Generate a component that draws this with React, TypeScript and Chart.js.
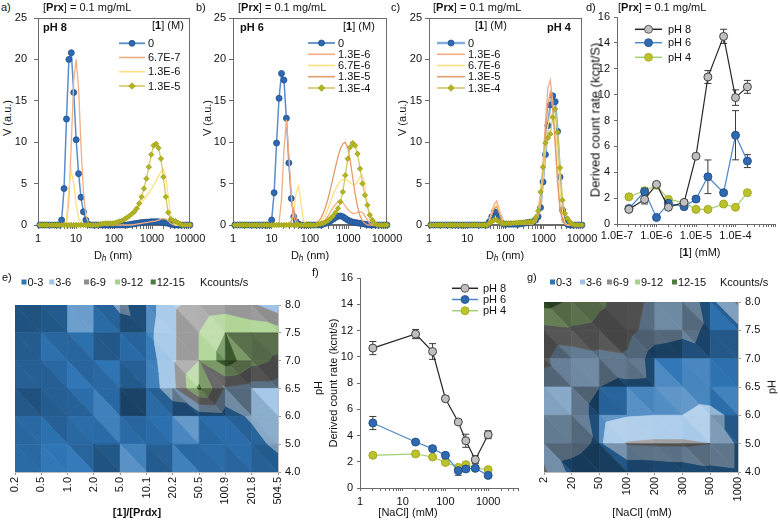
import React, { useEffect, useRef } from 'react';
import { Chart, registerables } from 'chart.js';

Chart.register(...registerables);

const FONT = '"Liberation Sans", Arial, Helvetica, sans-serif';
Chart.defaults.font.family = FONT;
Chart.defaults.font.size = 11;
Chart.defaults.color = '#111';

// ---------------- Panels a–c : DLS volume distributions ----------------
const dlsSizes = [1.117, 1.294, 1.499, 1.736, 2.01, 2.328, 2.696, 3.122, 3.615, 4.187,
  4.849, 5.615, 6.503, 7.531, 8.721, 10.1, 11.7, 13.54, 15.69, 18.17,
  21.04, 24.36, 28.21, 32.67, 37.84, 43.82, 50.75, 58.77, 68.06, 78.82,
  91.28, 105.7, 122.4, 141.8, 164.2, 190.1, 220.2, 255.0, 295.3, 342.0,
  396.1, 458.7, 531.2, 615.1, 712.4, 825.0, 955.4, 1106, 1281, 1484,
  1718, 1990, 2305, 2669, 3091, 3580, 4145, 4801, 5560, 6439,
  7456, 8635, 10000];

// pH 8
const aConc0 = [0, 0, 0, 0, 0, 0, 0, 0, 0, 0.6,
  4.4, 12.8, 20.0, 20.8, 16.0, 10.3, 6.2, 3.35, 1.6, 0.6,
  0.1, 0, 0, 0, 0, 0, 0, 0, 0, 0,
  0, 0, 0, 0, 0, 0, 0, 0.05, 0.1, 0.15,
  0.2, 0.25, 0.3, 0.3, 0.35, 0.35, 0.4, 0.4, 0.4, 0.4,
  0.35, 0.3, 0.25, 0.2, 0.1, 0.05, 0, 0, 0, 0,
  0, 0, 0];
const aConc67e7 = [0, 0, 0, 0, 0, 0, 0, 0, 0, 0,
  0, 0.3, 3.0, 10.0, 17.5, 20.0, 16.5, 9.5, 4.0, 1.2,
  0.3, 0, 0, 0, 0, 0, 0, 0, 0, 0,
  0, 0, 0, 0, 0, 0, 0, 0, 0, 0.05,
  0.1, 0.15, 0.2, 0.25, 0.3, 0.35, 0.4, 0.45, 0.5, 0.6,
  0.7, 0.8, 0.75, 0.5, 0.2, 0.05, 0, 0, 0, 0,
  0, 0, 0];
const aConc13e6 = [0, 0, 0, 0, 0, 0, 0, 0, 0, 0,
  0, 0.5, 4.5, 6.5, 5.0, 2.5, 0.8, 0.2, 0, 0,
  0, 0, 0, 0, 0, 0, 0, 0.05, 0.1, 0.1,
  0.15, 0.2, 0.25, 0.3, 0.4, 0.5, 0.7, 0.9, 1.2, 1.5,
  1.9, 2.3, 2.7, 3.1, 3.5, 3.9, 4.3, 4.8, 5.3, 5.9,
  6.4, 6.8, 5.8, 3.5, 1.3, 0.3, 0, 0, 0, 0,
  0, 0, 0];
const aConc13e5 = [0, 0, 0, 0, 0, 0, 0, 0, 0, 0,
  0, 0, 0, 0, 0, 0, 0, 0, 0, 0,
  0, 0, 0, 0, 0, 0.1, 0.15, 0.2, 0.2, 0.2,
  0.2, 0.25, 0.35, 0.45, 0.55, 0.7, 0.9, 1.1, 1.35, 1.6,
  2.0, 2.6, 3.4, 4.4, 5.6, 7.0, 8.5, 9.6, 9.8, 9.3,
  8.0, 5.8, 3.4, 1.5, 0.7, 0.55, 0.45, 0.3, 0.1, 0,
  0, 0, 0];

// pH 6
const bConc0 = [0, 0, 0, 0, 0, 0, 0, 0, 0, 0,
  0, 0, 0, 0, 0, 0.6, 3.9, 9.9, 15.3, 18.3,
  17.5, 12.9, 7.5, 3.2, 1.0, 0.4, 0.1, 0, 0, 0,
  0, 0, 0, 0, 0, 0, 0.1, 0.2, 0.3, 0.5,
  0.7, 0.9, 1.05, 1.1, 1.0, 0.8, 0.6, 0.45, 0.35, 0.3,
  0.25, 0.2, 0.15, 0.1, 0.05, 0, 0, 0, 0, 0,
  0, 0, 0];
const bConc13e6 = [0, 0, 0, 0, 0, 0, 0, 0, 0, 0,
  0, 0, 0, 0, 0, 0, 0, 0, 0.3, 3.0,
  9.0, 12.7, 8.5, 3.5, 1.0, 0.2, 0, 0, 0, 0,
  0, 0, 0, 0, 0.1, 0.2, 0.4, 0.7, 1.1, 1.6,
  2.1, 2.5, 2.8, 2.9, 2.7, 2.3, 1.9, 1.6, 1.4, 1.4,
  1.5, 1.6, 1.5, 1.1, 0.6, 0.2, 0, 0, 0, 0,
  0, 0, 0];
const bConc67e6 = [0, 0, 0, 0, 0, 0, 0, 0, 0, 0,
  0, 0, 0, 0, 0, 0, 0, 0, 0, 0,
  0, 0, 0, 0.3, 1.5, 4.0, 4.7, 2.5, 0.6, 0.1,
  0, 0, 0, 0, 0.2, 0.4, 0.8, 1.3, 2.0, 2.8,
  3.6, 4.3, 4.9, 5.3, 5.5, 5.5, 5.4, 5.1, 4.9, 4.9,
  5.2, 5.8, 6.0, 4.8, 2.5, 0.8, 0.2, 0, 0, 0,
  0, 0, 0];
const bConc13e5 = [0, 0, 0, 0, 0, 0, 0, 0, 0, 0,
  0, 0, 0, 0, 0, 0, 0, 0, 0, 0,
  0, 0, 0, 0.5, 1.9, 0.8, 0.1, 0, 0, 0,
  0, 0, 0.1, 0.2, 0.4, 0.8, 1.4, 2.2, 3.2, 4.4,
  5.7, 7.0, 8.2, 9.2, 9.8, 10.0, 9.3, 7.8, 5.8, 3.8,
  2.2, 1.1, 0.5, 0.2, 0, 0, 0, 0, 0, 0,
  0, 0, 0];
const bConc13e4 = [0, 0, 0, 0, 0, 0, 0, 0, 0, 0,
  0, 0, 0, 0, 0, 0, 0, 0, 0, 0,
  0, 0, 0, 0, 0, 0, 0, 0, 0, 0,
  0, 0, 0, 0, 0.1, 0.15, 0.2, 0.35, 0.55, 0.8,
  1.1, 1.5, 2.0, 2.8, 4.0, 6.0, 8.0, 9.4, 9.9, 9.6,
  8.6, 6.8, 5.0, 3.6, 2.4, 1.2, 0.6, 0.2, 0, 0,
  0, 0, 0];

// pH 4
const cConc0 = [0, 0, 0, 0, 0, 0, 0, 0, 0, 0,
  0, 0, 0, 0, 0, 0, 0, 0, 0, 0,
  0, 0, 0, 0, 0.4, 1.0, 1.6, 1.5, 0.9, 0.3,
  0.1, 0.1, 0.1, 0.1, 0.1, 0.1, 0.1, 0.15, 0.2, 0.25,
  0.3, 0.35, 0.4, 0.6, 1.0, 2.1, 5.2, 8.5, 12.0, 14.5,
  15.6, 14.9, 11.3, 5.8, 1.8, 0.6, 0.1, 0, 0, 0,
  0, 0, 0];
const cConc13e6 = [0, 0, 0, 0, 0, 0, 0, 0, 0, 0,
  0, 0, 0, 0, 0, 0, 0, 0, 0, 0,
  0, 0, 0, 0, 0.6, 1.6, 2.5, 2.9, 2.0, 0.8,
  0.2, 0.1, 0.1, 0.1, 0.1, 0.1, 0.1, 0.1, 0.1, 0.1,
  0.1, 0.1, 0.2, 0.5, 1.2, 3.5, 7.5, 12.5, 16.5, 17.5,
  15.0, 10.0, 5.0, 1.8, 0.5, 0.1, 0, 0, 0, 0,
  0, 0, 0];
const cConc67e6 = [0, 0, 0, 0, 0, 0, 0, 0, 0, 0,
  0, 0, 0, 0, 0, 0, 0, 0, 0, 0,
  0, 0, 0, 0, 0.5, 1.4, 2.2, 2.4, 1.8, 0.7,
  0.2, 0.1, 0.1, 0.1, 0.1, 0.1, 0.1, 0.1, 0.1, 0.1,
  0.1, 0.1, 0.2, 0.4, 1.0, 2.5, 5.5, 9.0, 12.0, 13.2,
  13.5, 12.0, 8.5, 4.5, 1.5, 0.3, 0, 0, 0, 0,
  0, 0, 0];
const cConc13e5 = [0, 0, 0, 0, 0, 0, 0, 0, 0, 0,
  0, 0, 0, 0, 0, 0, 0, 0, 0, 0,
  0, 0, 0, 0, 0.4, 1.2, 2.0, 2.2, 1.5, 0.6,
  0.2, 0.1, 0.1, 0.1, 0.1, 0.1, 0.1, 0.1, 0.1, 0.1,
  0.1, 0.1, 0.2, 0.4, 1.0, 2.8, 6.5, 11.0, 14.5, 16.0,
  14.0, 10.0, 5.5, 2.0, 0.6, 0.1, 0, 0, 0, 0,
  0, 0, 0];
const cConc13e4 = [0, 0, 0, 0, 0, 0, 0, 0, 0, 0,
  0, 0, 0, 0, 0, 0, 0, 0, 0, 0,
  0, 0, 0, 0, 0.2, 0.4, 0.6, 0.6, 0.4, 0.2,
  0.15, 0.2, 0.2, 0.2, 0.25, 0.25, 0.3, 0.3, 0.3, 0.35,
  0.35, 0.4, 0.4, 0.9, 1.7, 4.0, 7.0, 9.9, 10.5, 11.0,
  13.0, 14.0, 11.2, 6.9, 3.0, 1.4, 0.8, 0.4, 0.1, 0,
  0, 0, 0];

const dlsDecades = [1, 10, 100, 1000, 10000];

// ---------------- Panel d : count rate vs [1] ----------------
const dConc = [2e-7, 5e-7, 1e-6, 2e-6, 5e-6, 1e-5, 2e-5, 5e-5, 1e-4, 2e-4];
const dPH8 = [1.13, 1.9, 3.06, 1.29, 1.67, 5.24, 11.36, 14.5, 9.77, 10.6];
const dPH8err = [0.15, 0.35, 0.15, 0.15, 0.15, 0.15, 0.5, 0.55, 0.6, 0.5];
const dPH6 = [1.2, 2.5, 0.51, 1.6, 1.34, 1.93, 3.65, 2.42, 6.86, 4.86];
const dPH6err = [0.15, 0.3, 0.1, 0.2, 0.15, 0.2, 1.3, 0.15, 1.9, 0.5];
const dPH4 = [2.1, 2.57, 3.0, 1.9, 1.65, 1.13, 1.13, 1.54, 1.29, 2.42];
const dPH4err = [0.1, 0.1, 0.1, 0.1, 0.1, 0.1, 0.1, 0.1, 0.1, 0.1];
const dDecades = [1e-7, 1e-6, 1e-5, 1e-4];

// ---------------- Panel f : count rate vs NaCl ----------------
const fNaCl = [2, 20, 50, 100, 200, 300, 500, 1000];
const fPH8 = [10.66, 11.73, 10.4, 6.8, 5.03, 3.6, 2.16, 4.06];
const fPH8err = [0.5, 0.35, 0.6, 0.2, 0.1, 0.5, 0.3, 0.3];
const fPH6 = [4.95, 3.5, 3.0, 2.49, 1.32, 1.45, 1.5, 0.96];
const fPH6err = [0.5, 0.15, 0.2, 0.2, 0.35, 0.2, 0.1, 0.1];
const fPH4 = [2.49, 2.6, 2.36, 1.95, 1.57, 1.78, 1.52, 1.4];
const fPH4err = [0.1, 0.2, 0.1, 0.1, 0.1, 0.1, 0.1, 0.1];
const fDecades = [1, 10, 100, 1000];

// ---------------- Panels e, g : count-rate surfaces ----------------
const phLabels = ['8.0', '7.5', '7.0', '6.5', '6.0', '5.0', '4.0'];
const eRatio = ['0.2', '0.5', '1.0', '2.0', '5.0', '10.1', '20.2', '50.5', '100.9', '201.8', '504.5'];
const eRow80 = [1.5, 2.5, 0.6, 1.2, 3.6, 1.5, 5.5, 7.0, 7.5, 6.5, 4.0];
const eRow75 = [2.0, 0.5, 1.8, 2.5, 1.5, 2.0, 5.5, 9.0, 12.0, 11.0, 10.5];
const eRow70 = [2.8, 1.5, 0.8, 2.0, 1.5, 1.2, 5.5, 9.0, 13.5, 10.0, 8.5];
const eRow65 = [1.8, 2.5, 1.2, 1.0, 2.5, 0.8, 5.0, 12.5, 5.5, 4.5, 4.5];
const eRow60 = [1.5, 0.8, 2.2, 1.0, 1.5, 0.6, 0.5, 1.0, 1.5, 3.5, 5.0];
const eRow50 = [2.0, 1.2, 0.8, 2.8, 1.5, 1.2, 0.5, 2.0, 1.0, 1.5, 4.0];
const eRow40 = [1.5, 1.8, 1.5, 1.2, 2.0, 2.5, 0.5, 1.0, 2.5, 1.0, 0.8];

const gNaCl = ['2', '20', '50', '100', '200', '300', '500', '1000'];
const gRow80 = [13.0, 11.5, 9.5, 7.5, 5.0, 4.5, 2.0, 6.5];
const gRow75 = [8.0, 8.5, 8.0, 7.0, 4.5, 3.8, 2.5, 2.0];
const gRow70 = [6.5, 4.0, 5.0, 5.5, 1.5, 1.0, 2.0, 1.5];
const gRow65 = [5.0, 4.5, 3.0, 2.0, 1.8, 2.2, 2.0, 2.0];
const gRow60 = [5.5, 4.5, 2.0, 2.8, 3.0, 3.0, 3.5, 2.5];
const gRow50 = [4.5, 4.0, 2.5, 6.2, 6.5, 6.5, 6.0, 2.5];
const gRow40 = [6.5, 2.0, 1.0, 0.5, 0.5, 1.0, 2.0, 2.5];

const bandEdges = [0, 3, 6, 9, 12, 15];
const bandLabels = ['0-3', '3-6', '6-9', '9-12', '12-15'];
const bandColors = ['#2E75B6', '#9DC3E6', '#8E8E8E', '#A9D18E', '#4F7B3C'];

// ---------------- styles ----------------
const AX = '#6b6b6b';
const S_BLUE = { line: '#5A8DCB', width: 1.5, marker: 'circle', r: 3, fill: '#2E69B1', stroke: '#1F4F8A' };
const S_ORANGE = { line: '#F2AE82', width: 1.3 };
const S_YELLOW = { line: '#FFE07F', width: 1.3 };
const S_DKORANGE = { line: '#E39C6B', width: 1.3 };
const S_OLIVE = { line: '#D2C965', width: 1.3, marker: 'rectRot', r: 2.7, fill: '#B2B420', stroke: '#A0A21C' };
const S_PH8 = { line: '#262626', width: 1.2, marker: 'circle', r: 4, fill: '#BFBFBF', stroke: '#404040' };
const S_PH6 = { line: '#4F86C6', width: 1.2, marker: 'circle', r: 4, fill: '#2E69B1', stroke: '#24528C' };
const S_PH4 = { line: '#A3CF76', width: 1.2, marker: 'circle', r: 4, fill: '#BCC32A', stroke: '#A3A825' };

type Box = { x: number; y: number; w: number; h: number };

// ---------------- helpers ----------------
function isDecade(v: number) {
  const l = Math.log10(v);
  return Math.abs(l - Math.round(l)) < 1e-6;
}
function logTickValues(decades: number[], max: number) {
  const out: number[] = [];
  decades.forEach((d) => {
    for (let m = 1; m <= 9; m++) {
      const v = Number((m * d).toPrecision(12));
      if (v <= max * 1.000001) out.push(v);
    }
  });
  const last = Number((decades[decades.length - 1] * 10).toPrecision(12));
  if (last <= max * 1.000001 && out.indexOf(last) < 0) out.push(last);
  return out;
}

function drawMarker(ctx: CanvasRenderingContext2D, kind: string, x: number, y: number, r: number, fill: string, stroke: string) {
  ctx.beginPath();
  if (kind === 'rectRot') {
    ctx.moveTo(x, y - r * 1.2); ctx.lineTo(x + r * 1.2, y); ctx.lineTo(x, y + r * 1.2); ctx.lineTo(x - r * 1.2, y); ctx.closePath();
  } else {
    ctx.arc(x, y, r, 0, Math.PI * 2);
  }
  ctx.fillStyle = fill; ctx.fill();
  ctx.strokeStyle = stroke; ctx.lineWidth = 0.8; ctx.stroke();
}

function lineLegend(items: any[], geo: { x0: number; x1: number; tx: number; rows: number[] }, box: Box) {
  return {
    id: 'lineLegend',
    afterDraw(chart: any) {
      const ctx: CanvasRenderingContext2D = chart.ctx;
      ctx.save();
      items.forEach((it, i) => {
        const y = geo.rows[i] - box.y;
        const x0 = geo.x0 - box.x, x1 = geo.x1 - box.x;
        ctx.beginPath(); ctx.moveTo(x0, y); ctx.lineTo(x1, y);
        ctx.strokeStyle = it.line; ctx.lineWidth = it.width + 0.3; ctx.stroke();
        if (it.marker) drawMarker(ctx, it.marker, (x0 + x1) / 2, y, it.r, it.fill, it.stroke);
        ctx.fillStyle = '#111'; ctx.font = `11px ${FONT}`; ctx.textBaseline = 'middle'; ctx.textAlign = 'left';
        ctx.fillText(it.label, geo.tx - box.x, y + 0.5);
      });
      ctx.restore();
    },
  };
}

function boxLegend(boxesX: number[], unitX: number, y: number, box: Box) {
  return {
    id: 'boxLegend',
    afterDraw(chart: any) {
      const ctx: CanvasRenderingContext2D = chart.ctx;
      ctx.save();
      ctx.font = `11px ${FONT}`; ctx.textBaseline = 'middle'; ctx.textAlign = 'left';
      bandLabels.forEach((lab, i) => {
        const bx = boxesX[i] - box.x, by = y - box.y;
        ctx.fillStyle = bandColors[i];
        ctx.fillRect(bx, by - 2.5, 5, 5);
        ctx.fillStyle = '#111';
        ctx.fillText(lab, bx + 6, by + 0.5);
      });
      ctx.fillText('Kcounts/s', unitX - box.x, y - box.y + 0.5);
      ctx.restore();
    },
  };
}

const framePlugin = {
  id: 'frame',
  beforeDatasetsDraw(chart: any) {
    const { ctx, chartArea: a } = chart;
    ctx.save();
    ctx.strokeStyle = AX; ctx.lineWidth = 1;
    ctx.strokeRect(Math.round(a.left) + 0.5, Math.round(a.top) + 0.5, Math.round(a.width) - 1, Math.round(a.height) - 1);
    ctx.restore();
  },
};

const errorBarPlugin = {
  id: 'errorBars',
  beforeDatasetsDraw(chart: any) {
    const { ctx, scales } = chart;
    ctx.save();
    chart.data.datasets.forEach((ds: any) => {
      if (!ds.errors) return;
      ctx.strokeStyle = '#3a3a3a'; ctx.lineWidth = 1;
      ds.data.forEach((p: any, i: number) => {
        const e = ds.errors[i];
        if (!e) return;
        const px = scales.x.getPixelForValue(p.x);
        const yt = scales.y.getPixelForValue(p.y + e);
        const yb = scales.y.getPixelForValue(p.y - e);
        ctx.beginPath();
        ctx.moveTo(px, yt); ctx.lineTo(px, yb);
        ctx.moveTo(px - 3.5, yt); ctx.lineTo(px + 3.5, yt);
        ctx.moveTo(px - 3.5, yb); ctx.lineTo(px + 3.5, yb);
        ctx.stroke();
      });
    });
    ctx.restore();
  },
};

function shade(hex: string, f: number) {
  const n = parseInt(hex.slice(1), 16);
  const ch = [(n >> 16) & 255, (n >> 8) & 255, n & 255];
  const adj = (c: number) => (f <= 1 ? c * f : c + (255 - c) * Math.min(1, (f - 1) * 1.6));
  return `rgb(${ch.map((c) => Math.round(Math.max(0, Math.min(255, adj(c))))).join(',')})`;
}

type SP = { gx: number; gy: number; px: number; py: number; v: number };
function clipPoly(poly: SP[], f: (p: SP) => number) {
  const out: SP[] = [];
  for (let i = 0; i < poly.length; i++) {
    const a = poly[i], b = poly[(i + 1) % poly.length];
    const fa = f(a), fb = f(b);
    if (fa >= 0) out.push(a);
    if ((fa >= 0) !== (fb >= 0)) {
      const t = fa / (fa - fb);
      out.push({ gx: a.gx + t * (b.gx - a.gx), gy: a.gy + t * (b.gy - a.gy), px: a.px + t * (b.px - a.px), py: a.py + t * (b.py - a.py), v: a.v + t * (b.v - a.v) });
    }
  }
  return out;
}

function surfacePlugin(rows: number[][]) {
  return {
    id: 'surface',
    beforeDatasetsDraw(chart: any) {
      const { ctx, chartArea: a, scales } = chart;
      const xs = scales.x, ys = scales.y;
      ctx.save();
      ctx.beginPath(); ctx.rect(a.left, a.top, a.width, a.height); ctx.clip();
      const P = (r: number, c: number): SP => ({ gx: c, gy: r, px: xs.getPixelForValue(c), py: ys.getPixelForValue(r), v: rows[r][c] });
      const L = [-0.45, -0.5, 0.74];
      const k = 0.5;
      const drawTri = (t: SP[]) => {
        const d1x = t[1].gx - t[0].gx, d1y = t[1].gy - t[0].gy, dv1 = t[1].v - t[0].v;
        const d2x = t[2].gx - t[0].gx, d2y = t[2].gy - t[0].gy, dv2 = t[2].v - t[0].v;
        const det = d1x * d2y - d1y * d2x;
        const ga = (dv1 * d2y - dv2 * d1y) / det;
        const gb = (d1x * dv2 - d2x * dv1) / det;
        let nx = -ga * k, ny = -gb * k;
        const m = Math.sqrt(nx * nx + ny * ny);
        if (m > 0.8) { nx *= 0.8 / m; ny *= 0.8 / m; }
        const nl = Math.sqrt(nx * nx + ny * ny + 1);
        const dot = (nx * L[0] + ny * L[1] + L[2]) / nl;
        const fac = 0.35 + 0.85 * dot;
        for (let b = 0; b < bandColors.length; b++) {
          const lo = bandEdges[b];
          const hi = b === bandColors.length - 1 ? Infinity : bandEdges[b + 1];
          let poly = clipPoly(t, (p) => p.v - lo);
          if (hi !== Infinity && poly.length) poly = clipPoly(poly, (p) => hi - p.v);
          if (poly.length < 3) continue;
          const col = shade(bandColors[b], fac);
          ctx.beginPath();
          ctx.moveTo(poly[0].px, poly[0].py);
          for (let i = 1; i < poly.length; i++) ctx.lineTo(poly[i].px, poly[i].py);
          ctx.closePath();
          ctx.fillStyle = col; ctx.strokeStyle = col; ctx.lineWidth = 0.7;
          ctx.fill(); ctx.stroke();
        }
      };
      for (let r = 0; r < rows.length - 1; r++) {
        for (let c = 0; c < rows[0].length - 1; c++) {
          drawTri([P(r, c), P(r, c + 1), P(r + 1, c + 1)]);
          drawTri([P(r, c), P(r + 1, c + 1), P(r + 1, c)]);
        }
      }
      ctx.restore();
    },
  };
}

function logAxis(min: number, max: number, decades: number[], fmt: (v: number) => string, height: number, tickLen: number, pad: number, showMax: boolean) {
  return {
    type: 'logarithmic',
    min, max,
    afterBuildTicks: (scale: any) => { scale.ticks = logTickValues(decades, max).filter((v) => v >= min * 0.999999).map((v) => ({ value: v })); },
    afterFit: (scale: any) => { scale.height = height; },
    ticks: {
      autoSkip: false, maxRotation: 0, minRotation: 0, padding: pad, color: '#111', font: { size: 11 },
      callback: (v: number) => (isDecade(v) && (showMax || v < max * 0.999) ? fmt(v) : ''),
    },
    grid: { display: true, drawOnChartArea: false, drawTicks: true, tickLength: tickLen, color: AX },
    border: { display: true, color: AX },
  };
}

function linAxis(min: number, max: number, step: number, width: number, tickLen: number, pad: number) {
  return {
    type: 'linear', min, max,
    afterFit: (scale: any) => { scale.width = width; },
    ticks: { stepSize: step, padding: pad, color: '#111', font: { size: 11 } },
    grid: { display: true, drawOnChartArea: false, drawTicks: true, tickLength: tickLen, color: AX },
    border: { display: true, color: AX },
  };
}

const baseOptions = (padding: any) => ({
  responsive: false, animation: false, devicePixelRatio: 1, events: [],
  layout: { padding },
  plugins: { legend: { display: false }, tooltip: { enabled: false } },
});

function toDataset(s: any, xs: number[], extra: any = {}) {
  return {
    label: s.label,
    data: s.values.map((y: number, k: number) => ({ x: xs[k], y })),
    borderColor: s.line, borderWidth: s.width, backgroundColor: s.fill || s.line,
    pointRadius: s.marker ? s.r : 0, pointStyle: s.marker || 'circle',
    pointBackgroundColor: s.fill, pointBorderColor: s.stroke, pointBorderWidth: 0.8,
    tension: 0, clip: false, ...extra,
  };
}

function dlsConfig(series: any[], box: Box, yWidth: number, yPad: number, legGeo: any) {
  return {
    type: 'line',
    data: { datasets: series.map((s, i) => toDataset(s, dlsSizes, { order: series.length - i })) },
    options: {
      ...baseOptions({ top: 18, right: 20, left: 0, bottom: 0 }),
      scales: {
        x: logAxis(1, 10000, dlsDecades, (v) => String(Math.round(v)), 25, 4, 3, true),
        y: linAxis(0, 25, 5, yWidth, 4, yPad),
      },
    },
    plugins: [framePlugin, lineLegend(series, legGeo, box)],
  };
}

// ---------------- boxes (page coordinates) ----------------
const A_BOX: Box = { x: 14, y: 0, w: 196, h: 250 };
const B_BOX: Box = { x: 209, y: 0, w: 198, h: 250 };
const C_BOX: Box = { x: 405, y: 0, w: 197, h: 250 };
const D_BOX: Box = { x: 585, y: 0, w: 195, h: 250 };
const E_BOX: Box = { x: 0, y: 270, w: 315, h: 250 };
const F_BOX: Box = { x: 335, y: 262, w: 195, h: 258 };
const G_BOX: Box = { x: 525, y: 270, w: 255, h: 250 };

const makeA = () => dlsConfig([
  { label: '0', values: aConc0, ...S_BLUE },
  { label: '6.7E-7', values: aConc67e7, ...S_ORANGE },
  { label: '1.3E-6', values: aConc13e6, ...S_YELLOW },
  { label: '1.3E-5', values: aConc13e5, ...S_OLIVE },
], A_BOX, 24, 7, { x0: 119, x1: 145, tx: 148, rows: [43.3, 57.5, 71.7, 86] });

const makeB = () => dlsConfig([
  { label: '0', values: bConc0, ...S_BLUE },
  { label: '1.3E-6', values: bConc13e6, ...S_ORANGE },
  { label: '6.7E-6', values: bConc67e6, ...S_YELLOW },
  { label: '1.3E-5', values: bConc13e5, ...S_DKORANGE },
  { label: '1.3E-4', values: bConc13e4, ...S_OLIVE },
], B_BOX, 24, 3, { x0: 308, x1: 335, tx: 338, rows: [43, 54.3, 65.5, 76.7, 88] });

const makeC = () => dlsConfig([
  { label: '0', values: cConc0, ...S_BLUE, line: '#86ACDD', width: 2.2 },
  { label: '1.3E-6', values: cConc13e6, ...S_ORANGE },
  { label: '6.7E-6', values: cConc67e6, ...S_YELLOW },
  { label: '1.3E-5', values: cConc13e5, ...S_DKORANGE },
  { label: '1.3E-4', values: cConc13e4, ...S_OLIVE },
], C_BOX, 24, 3, { x0: 437, x1: 465, tx: 468, rows: [43, 54.3, 65.5, 76.7, 88] });

function rateConfig(series: any[], xs: number[], box: Box, xAxis: any, yWidth: number, legGeo: any, padding: any) {
  return {
    type: 'line',
    data: { datasets: series.map((s) => toDataset(s, xs, { errors: s.errors, pointBorderWidth: 1 })) },
    options: {
      ...baseOptions(padding),
      scales: { x: xAxis, y: linAxis(0, 16, 2, yWidth, 3, 4) },
    },
    plugins: [errorBarPlugin, lineLegend(series, legGeo, box)],
  };
}

const makeD = () => rateConfig([
  { label: 'pH 8', values: dPH8, errors: dPH8err, ...S_PH8 },
  { label: 'pH 6', values: dPH6, errors: dPH6err, ...S_PH6 },
  { label: 'pH 4', values: dPH4, errors: dPH4err, ...S_PH4 },
], dConc, D_BOX, logAxis(1e-7, 1e-3, dDecades, (v) => v.toExponential(1).toUpperCase(), 26, 3, 2, false), 32,
  { x0: 635, x1: 662, tx: 668, rows: [29.3, 42.7, 57.3] }, { top: 17, right: 1, left: 0, bottom: 0 });

const makeF = () => rateConfig([
  { label: 'pH 8', values: fPH8, errors: fPH8err, ...S_PH8 },
  { label: 'pH 6', values: fPH6, errors: fPH6err, ...S_PH6 },
  { label: 'pH 4', values: fPH4, errors: fPH4err, ...S_PH4 },
], fNaCl, F_BOX, logAxis(1, 5000, fDecades, (v) => String(Math.round(v)), 20, 3, 4, false), 25,
  { x0: 452, x1: 478, tx: 483, rows: [288.3, 299.5, 310.7] }, { top: 16, right: 12, left: 0, bottom: 12 });

function surfaceConfig(cols: string[], rows: number[][], box: Box, padding: any, yWidth: number, legX: number[], unitX: number) {
  return {
    type: 'line',
    data: { labels: cols, datasets: [] },
    options: {
      ...baseOptions(padding),
      scales: {
        x: {
          type: 'category', labels: cols, offset: false,
          afterFit: (s: any) => { s.height = 40; },
          ticks: { autoSkip: false, maxRotation: 90, minRotation: 90, padding: 2, color: '#111', font: { size: 11 } },
          grid: { display: true, drawOnChartArea: false, drawTicks: true, tickLength: 3, color: '#9a9a9a', offset: false },
          border: { display: true, color: '#bdbdbd' },
        },
        y: {
          type: 'category', labels: phLabels, position: 'right', offset: false,
          afterFit: (s: any) => { s.width = yWidth; },
          ticks: { autoSkip: false, padding: 4, color: '#111', font: { size: 11 } },
          grid: { display: true, drawOnChartArea: false, drawTicks: true, tickLength: 3, color: '#9a9a9a', offset: false },
          border: { display: true, color: '#bdbdbd' },
        },
      },
    },
    plugins: [surfacePlugin(rows), boxLegend(legX, unitX, 282, box)],
  };
}

const makeE = () => surfaceConfig(eRatio, [eRow80, eRow75, eRow70, eRow65, eRow60, eRow50, eRow40], E_BOX,
  { top: 35, right: 0, left: 15, bottom: 8 }, 37, [21.5, 49.3, 84, 115, 150.7], 200);
const makeG = () => surfaceConfig(gNaCl, [gRow80, gRow75, gRow70, gRow65, gRow60, gRow50, gRow40], G_BOX,
  { top: 32, right: 0, left: 19, bottom: 8 }, 42, [550, 580, 607, 635, 672], 720);

// ---------------- React ----------------
function ChartCanvas({ box, make }: { box: Box; make: () => any }) {
  const ref = useRef<HTMLCanvasElement>(null);
  useEffect(() => {
    const chart = new Chart(ref.current as HTMLCanvasElement, make());
    return () => chart.destroy();
  }, []);
  return <canvas ref={ref} width={box.w} height={box.h} style={{ position: 'absolute', left: box.x, top: box.y, width: box.w, height: box.h }} />;
}

type TP = { x: number; y: number; rot?: number; center?: boolean; size?: number; bold?: boolean; children: React.ReactNode };
function Txt({ x, y, rot = 0, center = false, size = 11, bold = false, children }: TP) {
  return (
    <div style={{
      position: 'absolute', left: x, top: y, whiteSpace: 'nowrap', fontSize: size, lineHeight: `${size + 2}px`,
      fontWeight: bold ? 700 : 400, transform: `translate(${center ? '-50%' : '0'}, -50%) rotate(${rot}deg)`,
    }}>{children}</div>
  );
}

const Dh = () => (<>D<i style={{ fontSize: '0.75em', position: 'relative', top: '0.3em' }}>h</i> (nm)</>);
const Prx = () => (<>[<b>Prx</b>] = 0.1 mg/mL</>);
const OneM = () => (<>[<b>1</b>] (M)</>);

export default function App() {
  return (
    <div style={{ position: 'absolute', left: 0, top: 0, width: 780, height: 520, background: '#fff', overflow: 'hidden', fontFamily: FONT, color: '#111' }}>
      <ChartCanvas box={A_BOX} make={makeA} />
      <ChartCanvas box={B_BOX} make={makeB} />
      <ChartCanvas box={C_BOX} make={makeC} />
      <ChartCanvas box={D_BOX} make={makeD} />
      <ChartCanvas box={E_BOX} make={makeE} />
      <ChartCanvas box={F_BOX} make={makeF} />
      <ChartCanvas box={G_BOX} make={makeG} />

      <Txt x={1} y={7}>a)</Txt>
      <Txt x={43} y={7}><Prx /></Txt>
      <Txt x={43} y={27} bold>pH 8</Txt>
      <Txt x={152} y={25}><OneM /></Txt>
      <Txt x={7} y={118} rot={-90} center>V (a.u.)</Txt>
      <Txt x={113} y={256} center><Dh /></Txt>

      <Txt x={196} y={7}>b)</Txt>
      <Txt x={238} y={7}><Prx /></Txt>
      <Txt x={240} y={27} bold>pH 6</Txt>
      <Txt x={343} y={26}><OneM /></Txt>
      <Txt x={207} y={118} rot={-90} center>V (a.u.)</Txt>
      <Txt x={310} y={256} center><Dh /></Txt>

      <Txt x={391} y={7}>c)</Txt>
      <Txt x={433} y={7}><Prx /></Txt>
      <Txt x={475} y={25}><OneM /></Txt>
      <Txt x={547} y={27} bold>pH 4</Txt>
      <Txt x={402} y={118} rot={-90} center>V (a.u.)</Txt>
      <Txt x={505} y={256} center><Dh /></Txt>

      <Txt x={586} y={7}>d)</Txt>
      <Txt x={618} y={7}><Prx /></Txt>
      <Txt x={595} y={120} rot={-90} center size={13}>Derived count rate (kcnt/S)</Txt>
      <Txt x={700} y={252} center>[<b>1</b>] (mM)</Txt>

      <Txt x={2} y={277}>e)</Txt>
      <Txt x={137} y={512} center bold>[1]/[Prdx]</Txt>
      <Txt x={318} y={388} rot={-90} center>pH</Txt>

      <Txt x={312} y={272}>f)</Txt>
      <Txt x={333} y={383} rot={-90} center>Derived count rate (kcnt/s)</Txt>
      <Txt x={408} y={512} center>[NaCl] (mM)</Txt>

      <Txt x={527} y={277}>g)</Txt>
      <Txt x={642} y={512} center>[NaCl] (mM)</Txt>
      <Txt x={772} y={387} rot={-90} center>pH</Txt>
    </div>
  );
}
